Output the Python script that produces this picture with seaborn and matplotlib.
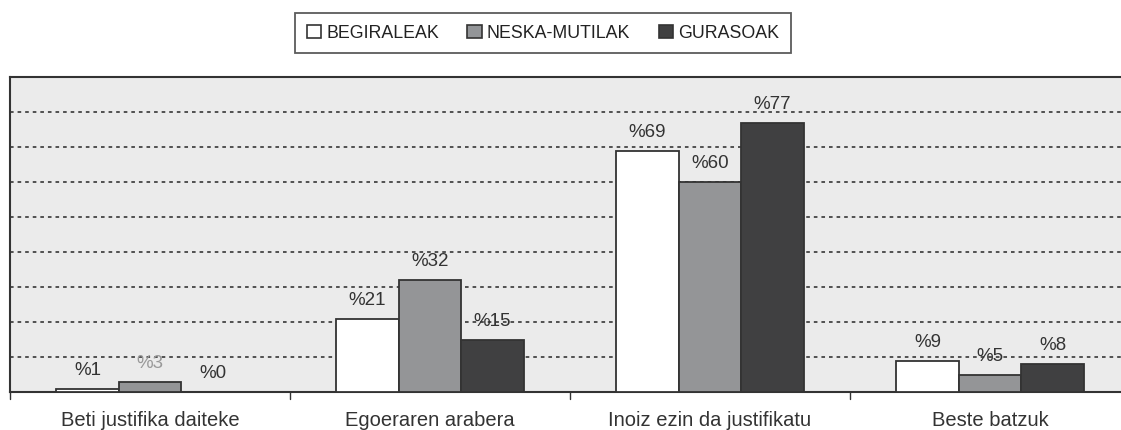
import matplotlib
matplotlib.use("Agg")
import matplotlib.pyplot as plt
import seaborn as sns
import pandas as pd
from matplotlib.patches import Patch

categories = ["Beti justifika daiteke", "Egoeraren arabera", "Inoiz ezin da justifikatu", "Beste batzuk"]
series = ["BEGIRALEAK", "NESKA-MUTILAK", "GURASOAK"]
begiraleak = [1, 21, 69, 9]
neska_mutilak = [3, 32, 60, 5]
gurasoak = [0, 15, 77, 8]
colors = ["#ffffff", "#939598", "#404041"]

rows = []
for s, vals in zip(series, [begiraleak, neska_mutilak, gurasoak]):
    for c, v in zip(categories, vals):
        rows.append({"cat": c, "series": s, "value": v})
df = pd.DataFrame(rows)

sns.set_style("white")
plt.rcParams["font.family"] = ["Liberation Sans", "DejaVu Sans"]

W, H = 1121, 430
fig = plt.figure(figsize=(W / 100, H / 100), dpi=100)
ax = fig.add_axes([10 / W, (H - 392) / H, 1120 / W, (392 - 77) / H])
ax.set_facecolor("#ebebeb")

sns.barplot(data=df, x="cat", y="value", hue="series", order=categories, hue_order=series,
            palette=colors, width=0.67, gap=0, edgecolor="#333333", linewidth=1.3,
            legend=False, ax=ax, zorder=3)

ax.set_ylim(0, 90)
ax.set_xlim(-0.5, 3.5)
ax.set_yticks(range(10, 90, 10))
ax.yaxis.grid(True, linestyle=(0, (2, 2.2)), color="#444444", linewidth=1.3, zorder=0)
ax.set_axisbelow(True)
ax.tick_params(axis="y", left=False, labelleft=False)
ax.set_xlabel("")
ax.set_ylabel("")

ax.set_xticks(range(len(categories)))
ax.set_xticklabels(categories, fontsize=14.5, color="#333333")
ax.tick_params(axis="x", length=0, pad=14)
for b in [-0.5, 0.5, 1.5, 2.5]:
    ax.plot([b, b], [0, -0.022], transform=ax.get_xaxis_transform(), color="#333333",
            linewidth=1, clip_on=False)

for side in ["left", "top", "bottom"]:
    ax.spines[side].set_color("#333333")
    ax.spines[side].set_linewidth(1.5)
ax.spines["right"].set_visible(False)

bar_w = 0.67 / 3
label_colors = {("NESKA-MUTILAK", categories[0]): "#999999"}
for i, (s, vals) in enumerate(zip(series, [begiraleak, neska_mutilak, gurasoak])):
    for j, v in enumerate(vals):
        x = j - 0.67 / 2 + bar_w * (i + 0.5)
        col = label_colors.get((s, categories[j]), "#333333")
        ax.annotate(f"%{v}", (x, v), xytext=(0, 7), textcoords="offset points",
                    ha="center", va="bottom", fontsize=13.5, color=col, zorder=5)

handles = [Patch(facecolor=c, edgecolor="#333333", linewidth=1.2, label=s)
           for c, s in zip(colors, series)]
leg = fig.legend(handles=handles, loc="upper center", bbox_to_anchor=(543 / W, 1 - 13 / H),
                 ncol=3, frameon=True, fancybox=False, fontsize=12.8, handlelength=0.8,
                 handleheight=0.8, handletextpad=0.3, columnspacing=1.6,
                 borderpad=0.65, borderaxespad=0)
leg.get_frame().set_edgecolor("#333333")
leg.get_frame().set_linewidth(1.3)
for t in leg.get_texts():
    t.set_color("#222222")

fig.savefig("out.png", dpi=100)
